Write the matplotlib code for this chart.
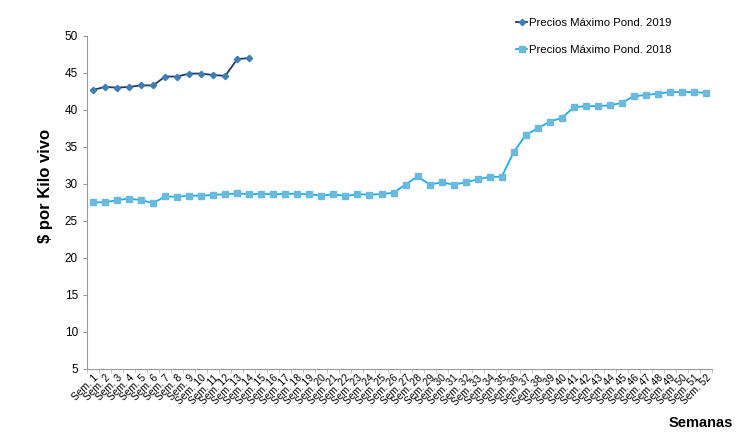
import matplotlib
matplotlib.use("Agg")
import matplotlib.pyplot as plt
import numpy as np

plt.rcParams['font.family'] = ['Liberation Sans', 'DejaVu Sans']

semanas = ["Sem. %d" % i for i in range(1, 53)]

precios_2019 = [42.7, 43.1, 43.0, 43.1, 43.3, 43.3, 44.5, 44.5, 44.9, 44.9,
                44.7, 44.6, 46.85, 47.0]

precios_2018 = [27.5, 27.5, 27.8, 28.0, 27.8, 27.4, 28.3, 28.25, 28.4, 28.4,
                28.5, 28.6, 28.7, 28.6, 28.65, 28.6, 28.65, 28.65, 28.6, 28.4,
                28.6, 28.35, 28.6, 28.55, 28.6, 28.8, 29.9, 31.0, 29.9, 30.2,
                29.9, 30.2, 30.6, 30.95, 30.95, 34.3, 36.6, 37.5, 38.4, 38.9,
                40.35, 40.5, 40.5, 40.6, 40.95, 41.85, 42.0, 42.2, 42.4, 42.4,
                42.4, 42.3]

fig = plt.figure(figsize=(7.44, 4.37), dpi=100)
ax = fig.add_axes([0.117, 0.156, 0.84, 0.762])

x18 = np.arange(len(precios_2018))
x19 = np.arange(len(precios_2019))

ax.plot(x19, precios_2019, color='#1F3A6B', lw=1.3, marker='D', ms=3.2,
        mfc='#3D7FB5', mec='#3D7FB5', label='Precios Máximo Pond. 2019', zorder=3)
ax.plot(x18, precios_2018, color='#12B2EE', lw=1.3, marker='s', ms=4.3,
        mfc='#6CB9DE', mec='#6CB9DE', label='Precios Máximo Pond. 2018', zorder=2)

ax.set_ylim(5, 50)
ax.set_yticks(range(5, 51, 5))
ax.set_xlim(-0.5, 51.5)
ax.set_xticks(x18)
ax.set_xticklabels(semanas, rotation=45, ha='right', rotation_mode='anchor', fontsize=7.3)
ax.set_xticks(np.arange(-0.5, 52, 1), minor=True)
ax.tick_params(axis='x', which='major', length=0, pad=3)
ax.tick_params(axis='x', which='minor', length=3, color='#BBBBBB')
ax.tick_params(axis='y', labelsize=8.5, length=3, color='#999999')

for s in ['top', 'right']:
    ax.spines[s].set_visible(False)
for s in ['left', 'bottom']:
    ax.spines[s].set_color('#999999')

ax.set_ylabel('$ por Kilo vivo', fontsize=12, fontweight='bold')
ax.yaxis.set_label_coords(-0.055, 0.548)
fig.text(0.985, 0.015, 'Semanas', ha='right', va='bottom', fontsize=10.5, fontweight='bold')

ax.legend(loc='upper left', bbox_to_anchor=(0.67, 1.085), frameon=False, fontsize=8.2,
          handlelength=1.0, handletextpad=0.1, labelspacing=1.5)

fig.savefig('out.png', dpi=100)
